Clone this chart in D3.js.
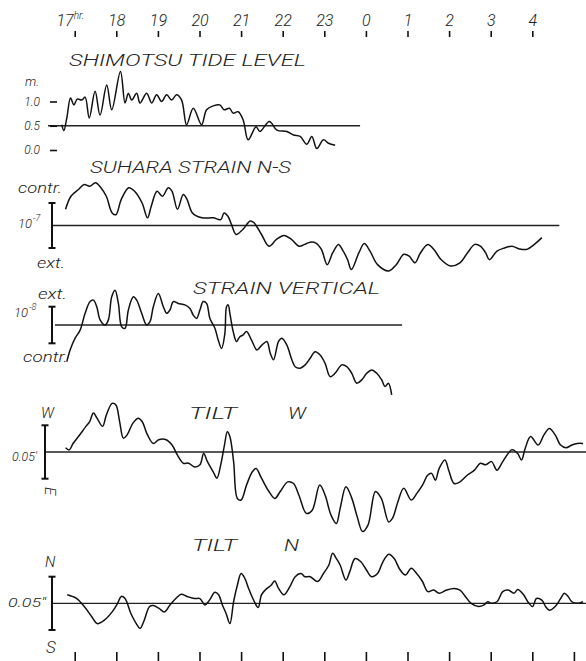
<!DOCTYPE html>
<html>
<head>
<meta charset="utf-8">
<script src="https://cdn.jsdelivr.net/npm/d3@7"></script>
<style>
  body { margin: 0; background: #fff; }
  text { font-family: Roboto, "DejaVu Sans", sans-serif; font-style: italic; font-weight: 300; fill: #222; }
  .trace { fill: none; stroke: #111; stroke-width: 1.5px; stroke-linejoin: round; }
  .base { stroke: #222; stroke-width: 1.3px; }
  .bar { stroke: #111; stroke-width: 2px; }
  .tick line { stroke: #111; stroke-width: 1.6px; }
</style>
</head>
<body>
<div id="chart"></div>
<script>
// time axis: clock hours, after midnight counted on (24 = 0h)
var hourTicks = [17, 18, 19, 20, 21, 22, 23, 24, 25, 26, 27, 28];
var hourLabels = ["17", "18", "19", "20", "21", "22", "23", "0", "1", "2", "3", "4"];
var bottomTicks = [17, 18, 19, 20, 21, 22, 23, 24, 25, 26, 27, 28, 29];
var tideTicks = [0, 0.5, 1.0];

// Shimotsu tide level, m
var tide = [[16.69,0.52],[16.74,0.40],[16.81,0.66],[16.90,1.07],[16.98,0.93],[17.06,1.05],[17.17,1.03],
  [17.25,1.09],[17.35,0.66],[17.49,1.21],[17.61,0.72],[17.77,1.34],[17.89,0.83],[18.10,1.62],[18.21,0.97],
  [18.29,1.17],[18.37,1.03],[18.49,1.17],[18.57,0.97],[18.73,1.17],[18.85,0.97],[18.97,1.14],[19.09,1.00],
  [19.21,1.14],[19.33,1.03],[19.45,1.14],[19.57,1.03],[19.69,0.52],[19.85,0.86],[20.05,0.52],[20.17,0.83],
  [20.33,0.91],[20.49,0.93],[20.59,0.83],[20.72,0.86],[20.81,0.76],[20.93,0.79],[21.05,0.62],[21.17,0.21],
  [21.36,0.48],[21.45,0.38],[21.68,0.59],[21.86,0.41],[22.10,0.38],[22.26,0.31],[22.42,0.28],[22.58,0.12],
  [22.70,0.28],[22.82,0.03],[22.98,0.21],[23.10,0.14],[23.26,0.10]];

// Suhara strain N-S, 1e-7 (contraction up)
var strainNS = [[16.78,0.36],[16.91,0.65],[17.09,0.80],[17.23,0.91],[17.36,0.87],[17.50,0.95],[17.63,0.84],
  [17.76,0.65],[17.90,0.28],[17.99,0.24],[18.12,0.58],[18.30,0.84],[18.44,0.76],[18.62,0.50],[18.75,0.17],
  [18.84,0.43],[18.98,0.76],[19.11,0.65],[19.25,0.84],[19.34,0.76],[19.47,0.36],[19.61,0.69],[19.70,0.58],
  [19.83,0.28],[20.06,0.17],[20.33,0.17],[20.51,0.13],[20.59,0.28],[20.68,0.21],[20.77,0.02],[20.88,-0.20],
  [21.04,-0.09],[21.22,0.10],[21.31,0.06],[21.49,-0.20],[21.67,-0.46],[21.85,-0.31],[22.03,-0.22],[22.21,-0.31],
  [22.39,-0.46],[22.53,-0.42],[22.66,-0.37],[22.80,-0.39],[22.93,-0.53],[23.07,-0.87],[23.20,-0.61],[23.34,-0.42],
  [23.43,-0.53],[23.56,-0.76],[23.65,-0.98],[23.83,-0.61],[23.96,-0.40],[24.10,-0.57],[24.28,-0.87],[24.55,-1.01],
  [24.73,-0.87],[24.91,-0.64],[25.04,-0.68],[25.18,-0.83],[25.31,-0.61],[25.49,-0.42],[25.63,-0.53],[25.81,-0.76],
  [26.03,-0.90],[26.26,-0.83],[26.44,-0.61],[26.62,-0.42],[26.75,-0.46],[26.88,-0.61],[26.97,-0.76],[27.15,-0.57],
  [27.33,-0.50],[27.51,-0.46],[27.69,-0.52],[27.87,-0.53],[28.05,-0.42],[28.23,-0.27]];

// strain vertical, 1e-8 (extension up)
var strainV = [[16.81,-1.00],[16.89,-0.68],[17.01,-0.36],[17.13,-0.14],[17.25,0.32],[17.37,0.64],[17.45,0.68],
  [17.53,0.50],[17.61,0.14],[17.73,0.00],[17.81,0.14],[17.89,0.77],[17.97,0.95],[18.05,0.59],[18.13,-0.05],
  [18.21,-0.09],[18.29,0.41],[18.41,0.77],[18.49,0.68],[18.61,0.32],[18.73,0.00],[18.81,0.09],[18.89,0.50],
  [19.01,0.86],[19.13,0.50],[19.21,0.32],[19.29,0.41],[19.37,0.64],[19.49,0.59],[19.65,0.55],[19.77,0.45],
  [19.85,0.27],[19.93,0.18],[20.01,0.41],[20.09,0.64],[20.17,0.59],[20.25,0.18],[20.37,-0.09],[20.45,-0.41],
  [20.53,-0.64],[20.61,-0.23],[20.65,0.50],[20.69,0.55],[20.73,0.32],[20.81,-0.18],[20.89,-0.45],[20.97,-0.32],
  [21.05,-0.27],[21.13,-0.18],[21.25,-0.41],[21.38,-0.68],[21.50,-0.55],[21.62,-0.45],[21.70,-0.77],[21.78,-0.95],
  [21.90,-0.45],[21.98,-0.36],[22.10,-0.55],[22.22,-0.95],[22.30,-1.14],[22.42,-1.18],[22.54,-1.09],[22.66,-0.91],
  [22.78,-0.73],[22.90,-0.82],[23.02,-1.05],[23.14,-1.41],[23.26,-1.32],[23.42,-1.09],[23.54,-1.14],[23.66,-1.32],
  [23.78,-1.59],[23.90,-1.50],[24.02,-1.32],[24.14,-1.23],[24.26,-1.32],[24.38,-1.50],[24.46,-1.68],[24.54,-1.59],
  [24.62,-1.91]];

// tilt W component, 0.05" units (W up)
var tiltW = [[16.78,0.08],[16.87,0.04],[16.96,0.16],[17.09,0.29],[17.27,0.48],[17.36,0.57],[17.45,0.73],
  [17.54,0.63],[17.67,0.48],[17.76,0.69],[17.90,0.91],[17.99,0.88],[18.08,0.57],[18.17,0.26],[18.26,0.32],
  [18.40,0.54],[18.53,0.63],[18.62,0.57],[18.75,0.32],[18.89,0.16],[19.02,0.23],[19.20,0.23],[19.34,0.13],
  [19.47,-0.06],[19.61,-0.21],[19.74,-0.21],[19.88,-0.28],[20.01,-0.24],[20.10,-0.03],[20.19,-0.18],[20.33,-0.37],
  [20.42,-0.49],[20.51,-0.24],[20.60,0.13],[20.67,0.38],[20.73,0.29],[20.82,-0.18],[20.91,-0.87],[21.00,-0.90],
  [21.13,-0.62],[21.27,-0.37],[21.36,-0.31],[21.49,-0.49],[21.67,-0.74],[21.81,-0.87],[21.94,-0.74],[22.12,-0.56],
  [22.26,-0.59],[22.39,-0.81],[22.57,-1.15],[22.71,-1.09],[22.89,-0.62],[23.02,-0.81],[23.16,-1.18],[23.29,-1.34],
  [23.38,-1.06],[23.52,-0.65],[23.65,-0.84],[23.79,-1.21],[23.92,-1.49],[24.05,-1.37],[24.23,-0.74],[24.37,-0.87],
  [24.55,-1.31],[24.64,-1.24],[24.77,-0.93],[24.91,-0.68],[25.09,-0.90],[25.22,-0.78],[25.36,-0.62],[25.49,-0.43],
  [25.58,-0.40],[25.67,-0.53],[25.76,-0.31],[25.90,-0.15],[25.99,-0.34],[26.12,-0.59],[26.26,-0.56],[26.44,-0.43],
  [26.61,-0.34],[26.75,-0.21],[26.88,-0.24],[27.02,-0.18],[27.15,-0.34],[27.29,-0.18],[27.51,0.04],[27.65,-0.03],
  [27.74,-0.15],[27.83,0.07],[27.96,0.29],[28.14,0.13],[28.28,0.32],[28.41,0.44],[28.55,0.32],[28.68,0.13],
  [28.81,0.08],[28.95,0.13],[29.08,0.16],[29.22,0.16]];

// tilt N component, 0.05" units (N up)
var tiltN = [[16.82,0.16],[17.05,0.09],[17.23,-0.06],[17.41,-0.25],[17.54,-0.38],[17.72,-0.31],[17.90,-0.16],
  [18.03,0.00],[18.12,0.13],[18.21,0.09],[18.35,-0.19],[18.48,-0.38],[18.57,-0.47],[18.66,-0.34],[18.80,-0.06],
  [18.89,-0.04],[19.02,-0.09],[19.16,-0.16],[19.29,-0.03],[19.43,0.09],[19.56,0.17],[19.70,0.13],[19.88,0.09],
  [20.01,0.09],[20.13,-0.03],[20.24,0.06],[20.37,0.21],[20.46,0.16],[20.55,-0.03],[20.64,-0.19],[20.73,-0.38],
  [20.82,0.03],[20.91,0.34],[21.00,0.56],[21.09,0.47],[21.18,0.28],[21.32,0.03],[21.41,-0.08],[21.49,0.16],
  [21.58,0.25],[21.72,0.34],[21.81,0.42],[21.90,0.28],[22.03,0.16],[22.17,0.31],[22.30,0.50],[22.44,0.56],
  [22.53,0.50],[22.66,0.50],[22.84,0.41],[22.98,0.56],[23.11,0.72],[23.20,0.94],[23.29,0.84],[23.38,0.72],
  [23.52,0.44],[23.61,0.59],[23.74,0.84],[23.88,0.78],[24.01,0.63],[24.14,0.50],[24.28,0.56],[24.41,0.78],
  [24.55,0.92],[24.68,0.84],[24.82,0.63],[24.95,0.53],[25.09,0.66],[25.22,0.56],[25.36,0.41],[25.49,0.22],
  [25.63,0.25],[25.76,0.19],[25.94,0.25],[26.12,0.28],[26.26,0.25],[26.39,0.13],[26.53,0.00],[26.71,-0.06],
  [26.84,-0.03],[26.93,0.03],[27.02,0.00],[27.15,0.03],[27.29,0.22],[27.42,0.25],[27.56,0.19],[27.65,0.26],
  [27.79,0.16],[27.92,0.00],[28.01,-0.06],[28.10,0.09],[28.23,0.06],[28.32,-0.06],[28.41,-0.13],[28.55,-0.06],
  [28.68,0.09],[28.77,0.19],[28.86,0.13],[28.95,0.03],[29.08,0.00],[29.22,0.03]];

var width = 586, height = 661;

var svg = d3.select("#chart").append("svg")
    .attr("width", width)
    .attr("height", height);

var x = d3.scaleLinear().domain([17, 30]).range([74.7, 615.5]);

// one y scale per strip
var yTide = d3.scaleLinear().domain([0, 1]).range([150, 101.5]);
var yNS = d3.scaleLinear().domain([-0.5, 0.5]).range([248, 203]);
var yV = d3.scaleLinear().domain([-0.5, 0.5]).range([343.3, 306.7]);
var yW = d3.scaleLinear().domain([-0.5, 0.5]).range([478.7, 425.3]);
var yN = d3.scaleLinear().domain([-0.5, 0.5]).range([630, 576.7]);

var strips = [
  {data: tide, y: yTide, base: 0.5, x0: 48, x1: x(23.86)},
  {data: strainNS, y: yNS, base: 0, x0: 52, x1: x(28.65), bar: 52},
  {data: strainV, y: yV, base: 0, x0: 55, x1: x(24.87), bar: 52},
  {data: tiltW, y: yW, base: 0, x0: 45, x1: width, bar: 45},
  {data: tiltN, y: yN, base: 0, x0: 52, x1: width, bar: 52}
];

strips.forEach(function(s) {
  // zero line
  svg.append("line")
      .attr("class", "base")
      .attr("x1", s.x0).attr("x2", s.x1)
      .attr("y1", s.y(s.base)).attr("y2", s.y(s.base));

  // scale bar
  if (s.bar) {
    var g = svg.append("g");
    g.append("line").attr("class", "bar")
        .attr("x1", s.bar).attr("x2", s.bar)
        .attr("y1", s.y(0.5)).attr("y2", s.y(-0.5));
    [0.5, -0.5].forEach(function(v) {
      g.append("line").attr("class", "bar")
          .attr("x1", s.bar - 3.5).attr("x2", s.bar + 3.5)
          .attr("y1", s.y(v)).attr("y2", s.y(v));
    });
  }

  var line = d3.line()
      .x(function(d) { return x(d[0]); })
      .y(function(d) { return s.y(d[1]); })
      .curve(d3.curveCatmullRom.alpha(0.5));

  svg.append("path")
      .datum(s.data)
      .attr("class", "trace")
      .attr("d", line);
});

// hour axis along the top
var topAxis = svg.append("g")
    .attr("transform", "translate(0,37)")
    .call(d3.axisTop(x)
        .tickValues(hourTicks)
        .tickSize(6)
        .tickPadding(5)
        .tickFormat(function(d, i) { return hourLabels[i]; }));
topAxis.select(".domain").remove();
topAxis.selectAll("text")
    .style("font-size", "16px")
    .attr("fill", "#222");
topAxis.select(".tick text")
    .attr("dx", "-5")
  .append("tspan")
    .attr("dy", "-7")
    .style("font-size", "10px")
    .text("hr.");

// bare ticks along the bottom
var bottomAxis = svg.append("g")
    .attr("transform", "translate(0,652)")
    .call(d3.axisBottom(x)
        .tickValues(bottomTicks)
        .tickSize(9)
        .tickFormat(""));
bottomAxis.select(".domain").remove();

// tide level ticks
var tideAxis = svg.append("g")
    .attr("transform", "translate(57,0)")
    .call(d3.axisLeft(yTide)
        .tickValues(tideTicks)
        .tickSize(7)
        .tickPadding(10)
        .tickFormat(d3.format(".1f")));
tideAxis.select(".domain").remove();
tideAxis.selectAll("text")
    .style("font-size", "12px")
    .attr("fill", "#222");

function label(txt, xp, yp, size, len) {
  var t = svg.append("text")
      .attr("x", xp)
      .attr("y", yp)
      .style("font-size", size + "px")
      .text(txt);
  if (len) t.attr("textLength", len).attr("lengthAdjust", "spacingAndGlyphs");
  return t;
}

// strip titles
label("SHIMOTSU TIDE LEVEL", 69, 66, 17, 237);
label("SUHARA STRAIN N-S", 90, 173, 17, 201);
label("STRAIN VERTICAL", 193, 294, 17, 187);
label("TILT", 189, 419, 17, 48);
label("W", 288, 419, 17, 18);
label("TILT", 192, 551, 17, 45);
label("N", 284, 551, 17, 15);

// left-hand units
label("m.", 25, 86, 13);
label("contr.", 18, 193, 14, 44);
label("10", 18, 228, 13);
label("-7", 33, 221, 9);
label("ext.", 37, 268, 14, 28);
label("ext.", 38, 299, 14, 29);
label("10", 14, 317, 13);
label("-8", 29, 310, 9);
label("contr.", 23, 362, 14, 45);
label("W", 41, 418, 15);
label("0.05'", 12, 461, 12, 25);
label("E", 0, 0, 15).attr("transform", "translate(45,487) rotate(90)");
label("N", 45, 567, 15);
label("0.05\"", 8, 607, 12, 38);
label("S", 46, 653, 17);
</script>
</body>
</html>
